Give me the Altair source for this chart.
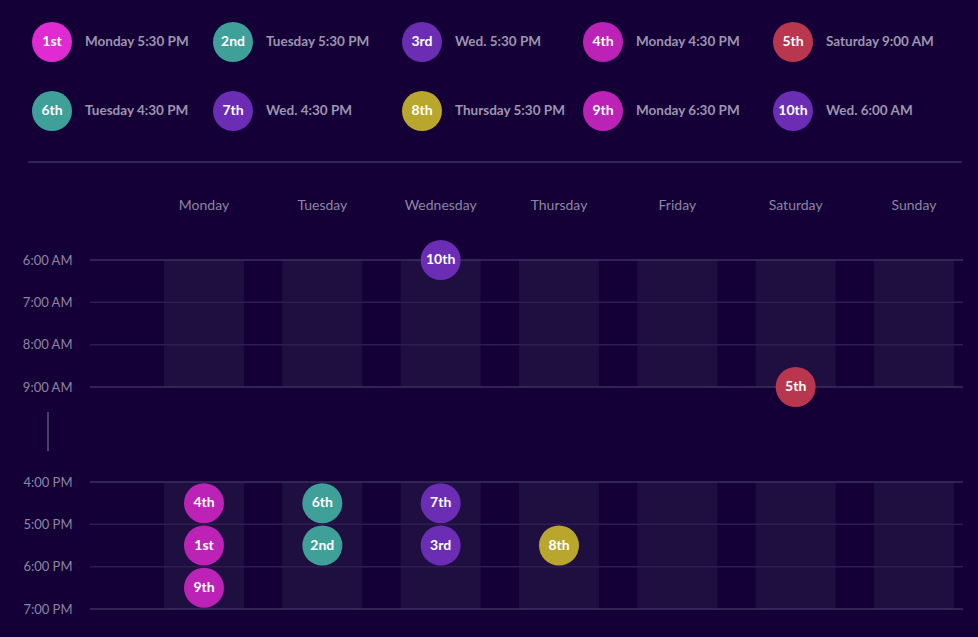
import altair as alt
import pandas as pd

# ---------------- data ----------------
DAYS = ["Monday", "Tuesday", "Wednesday", "Thursday", "Friday", "Saturday", "Sunday"]

RANKS = ["1st", "2nd", "3rd", "4th", "5th", "6th", "7th", "8th", "9th", "10th"]
RANK_DAYS = ["Monday", "Tuesday", "Wednesday", "Monday", "Saturday",
             "Tuesday", "Wednesday", "Thursday", "Monday", "Wednesday"]
RANK_HOURS = [17.5, 17.5, 17.5, 16.5, 9.0, 16.5, 16.5, 17.5, 18.5, 6.0]
LEGEND_LABELS = ["Monday 5:30 PM", "Tuesday 5:30 PM", "Wed. 5:30 PM", "Monday 4:30 PM",
                 "Saturday 9:00 AM", "Tuesday 4:30 PM", "Wed. 4:30 PM", "Thursday 5:30 PM",
                 "Monday 6:30 PM", "Wed. 6:00 AM"]

HOURS = [6, 7, 8, 9, 16, 17, 18, 19]
HOUR_LABELS = ["6:00 AM", "7:00 AM", "8:00 AM", "9:00 AM",
               "4:00 PM", "5:00 PM", "6:00 PM", "7:00 PM"]
SECTION_STARTS = [6, 16]
SECTION_ENDS = [9, 19]
BORDER_HOURS = [6, 9, 16, 19]
INNER_HOURS = [7, 8, 17, 18]

# ---------------- styles ----------------
BG = "#140037"
BAND = "#1f0f41"
LINE_MAJOR = "#3d2f61"
LINE_MINOR = "#2d1d51"
AXIS_TEXT = "#8e85a2"
LEGEND_TEXT = "#9d94b0"
FONT = "Lato"
DOT_SIZE = 1600

CHART_COLORS = ["#bc22b6", "#3f9f99", "#6a2db4", "#bc22b6", "#b8374f",
                "#3f9f99", "#6a2db4", "#b8a72c", "#bc22b6", "#6a2db4"]
LEGEND_COLORS = ["#e02ad2", "#3f9f99", "#6a2db4", "#bc22b6", "#b8374f",
                 "#3f9f99", "#6a2db4", "#b8a72c", "#bc22b6", "#6a2db4"]

W, H = 873, 349
PAD = {"left": 90, "top": 260, "right": 15, "bottom": 28}

# ---------------- tables ----------------
points = pd.DataFrame({"rank": RANKS, "day": RANK_DAYS, "hour": RANK_HOURS})
bands = pd.DataFrame([{"day": d, "start": s, "end": e}
                      for d in DAYS for s, e in zip(SECTION_STARTS, SECTION_ENDS)])
border = pd.DataFrame({"hour": BORDER_HOURS})
inner = pd.DataFrame({"hour": INNER_HOURS})
legend = pd.DataFrame({"rank": RANKS, "label": LEGEND_LABELS,
                       "col": [i % 5 for i in range(len(RANKS))],
                       "row": [i // 5 for i in range(len(RANKS))]})

# ---------------- scales / axes ----------------
x_scale = alt.Scale(domain=DAYS, range=[74, 864], paddingInner=0.324, paddingOuter=0)
y_scale = alt.Scale(domain=[6, 9, 16, 19], range=[0, 127, 222, 349], nice=False, zero=False)

label_expr = "[" + ",".join("'%s'" % l for l in HOUR_LABELS) + "][indexof([" + \
    ",".join(str(h) for h in HOURS) + "], datum.value)]"

x_axis = alt.Axis(orient="top", title=None, domain=False, ticks=False, grid=False,
                  labelAngle=0, labelPadding=48, labelColor=AXIS_TEXT, labelFontSize=14,
                  labelFont=FONT)
y_axis = alt.Axis(orient="left", title=None, domain=False, ticks=False, grid=False,
                  values=HOURS, labelExpr=label_expr, labelPadding=18, labelFlush=False,
                  labelColor=AXIS_TEXT, labelFontSize=13, labelFont=FONT, labelOverlap=False)

X_DAY = alt.X("day:N", scale=x_scale, axis=x_axis)
Y_HOUR = alt.Y("hour:Q", scale=y_scale, axis=y_axis)

rank_color_chart = alt.Color("rank:N", scale=alt.Scale(domain=RANKS, range=CHART_COLORS), legend=None)
rank_color_legend = alt.Color("rank:N", scale=alt.Scale(domain=RANKS, range=LEGEND_COLORS), legend=None)

# ---------------- grid layers ----------------
band_layer = alt.Chart(bands).mark_rect(color=BAND).encode(
    x=X_DAY,
    y=alt.Y("start:Q", scale=y_scale, axis=y_axis),
    y2="end:Q",
)
inner_layer = alt.Chart(inner).mark_rule(color=LINE_MINOR, strokeWidth=1.5).encode(y=Y_HOUR)
border_layer = alt.Chart(border).mark_rule(color=LINE_MAJOR, strokeWidth=1.5).encode(y=Y_HOUR)
point_layer = alt.Chart(points).mark_circle(size=DOT_SIZE, opacity=1).encode(
    x=X_DAY, y=Y_HOUR, color=rank_color_chart)
point_text = alt.Chart(points).mark_text(color="white", fontSize=14, fontWeight="bold",
                                         font=FONT, baseline="middle", align="center").encode(
    x=X_DAY, y=Y_HOUR, text="rank:N")

grid = alt.layer(band_layer, inner_layer, border_layer, point_layer, point_text)

# ---------------- legend layers ----------------
LX = alt.X("col:Q", scale=alt.Scale(domain=[0, 1, 2, 3, 4], range=[-38, 143, 332, 513, 703]),
           axis=None)
LY = alt.Y("row:Q", scale=alt.Scale(domain=[0, 1], range=[-218, -149]), axis=None)

leg_circles = alt.Chart(legend).mark_circle(size=DOT_SIZE, opacity=1).encode(
    x=LX, y=LY, color=rank_color_legend)
leg_rank = alt.Chart(legend).mark_text(color="white", fontSize=14, fontWeight="bold",
                                       font=FONT, baseline="middle", align="center").encode(
    x=LX, y=LY, text="rank:N")
leg_label = alt.Chart(legend).mark_text(color=LEGEND_TEXT, fontSize=13.5, fontWeight="bold",
                                        font=FONT, baseline="middle", align="left", dx=33).encode(
    x=LX, y=LY, text="label:N")

legend_layer = alt.layer(leg_circles, leg_rank, leg_label)

separator = alt.Chart(pd.DataFrame({"k": [0]})).mark_rule(color=LINE_MAJOR, strokeWidth=1.5).encode(
    x=alt.value(-62), x2=alt.value(872), y=alt.value(-98))
break_mark = alt.Chart(pd.DataFrame({"k": [0]})).mark_rule(color="#4a3d6c", strokeWidth=2).encode(
    x=alt.value(-42), y=alt.value(152), y2=alt.value(191))

chart = alt.layer(grid, legend_layer, separator, break_mark).resolve_scale(
    x="independent", y="independent", color="independent"
).properties(
    width=W, height=H, background=BG, padding=PAD,
    autosize=alt.AutoSizeParams(type="none"),
).configure_view(stroke=None)

chart.save("out.html", embed_options={"renderer": "svg", "actions": False})
